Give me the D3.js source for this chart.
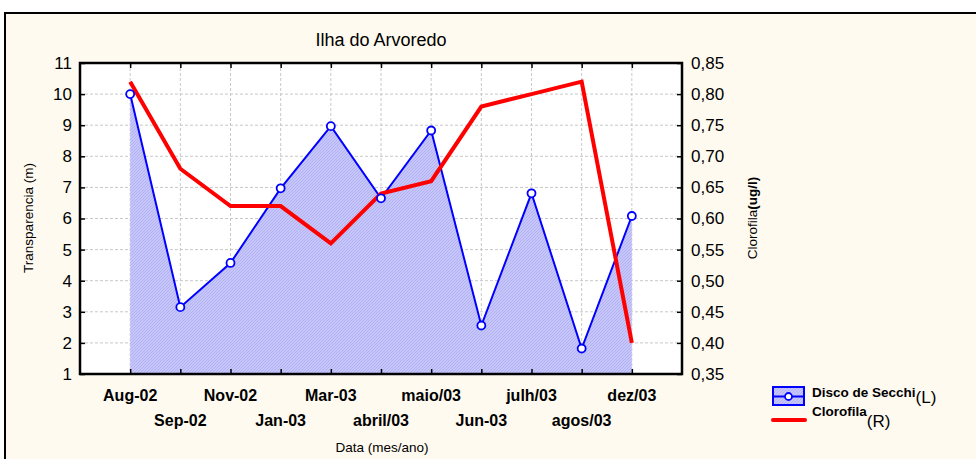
<!DOCTYPE html>
<html><head><meta charset="utf-8">
<script src="https://cdn.jsdelivr.net/npm/d3@7"></script>
<style>body{margin:0;background:#fff}svg{display:block;font-family:"Liberation Sans",Arial,sans-serif}</style>
</head><body>
<script>
const categories = ["Aug-02","Sep-02","Nov-02","Jan-03","Mar-03","abril/03","maio/03","Jun-03","julh/03","agos/03","dez/03"];
const secchi = [10.0, 3.15, 4.57, 6.97, 8.97, 6.65, 8.83, 2.56, 6.81, 1.82, 6.08];
const clorofila = [0.82, 0.68, 0.62, 0.62, 0.56, 0.64, 0.66, 0.78, 0.80, 0.82, 0.40];
const leftTicks = [1,2,3,4,5,6,7,8,9,10,11];
const rightTicks = [0.35,0.40,0.45,0.50,0.55,0.60,0.65,0.70,0.75,0.80,0.85];

const W = 976, H = 459;
const m = {l:80, t:63, r:682, b:374};
const svg = d3.select("body").append("svg").attr("width", W).attr("height", H);

svg.append("rect").attr("x",5).attr("y",13).attr("width",W).attr("height",H).attr("fill","#fefaef").attr("stroke","#000").attr("stroke-width",2);

const x = d3.scaleLinear().domain([-1, categories.length]).range([m.l, m.r]);
const yL = d3.scaleLinear().domain([1, 11]).range([m.b, m.t]);
const yR = d3.scaleLinear().domain([0.35, 0.85]).range([m.b, m.t]);

const defs = svg.append("defs");
const pat = defs.append("pattern").attr("id","hatch").attr("patternUnits","userSpaceOnUse").attr("width",3).attr("height",3);
pat.append("rect").attr("width",3).attr("height",3).attr("fill","#c6c6fb");
pat.append("path").attr("d","M0,3 L3,0").attr("stroke","#adadf0").attr("stroke-width",0.8);

svg.append("rect").attr("x",m.l).attr("y",m.t).attr("width",m.r-m.l).attr("height",m.b-m.t).attr("fill","#fff");

const g = svg.append("g");
leftTicks.slice(1,-1).forEach(v=>{
  g.append("line").attr("x1",m.l).attr("x2",m.r).attr("y1",yL(v)).attr("y2",yL(v)).attr("stroke","#c8c8c8").attr("stroke-dasharray","3,2");
});
categories.forEach((c,i)=>{
  g.append("line").attr("x1",x(i)).attr("x2",x(i)).attr("y1",m.t).attr("y2",m.b).attr("stroke","#c8c8c8").attr("stroke-dasharray","3,2");
});

const idx = categories.map((c,i)=>i);
svg.append("path").datum(idx)
  .attr("d", d3.area().x(i=>x(i)).y0(yL(1)).y1(i=>yL(secchi[i])))
  .attr("fill","url(#hatch)");

svg.append("path").datum(idx)
  .attr("d", d3.line().x(i=>x(i)).y(i=>yL(secchi[i])))
  .attr("fill","none").attr("stroke","#0000ff").attr("stroke-width",2);

svg.append("path").datum(idx)
  .attr("d", d3.line().x(i=>x(i)).y(i=>yR(clorofila[i])))
  .attr("fill","none").attr("stroke","#ff0000").attr("stroke-width",4).attr("stroke-linejoin","miter");

svg.selectAll("circle.pt").data(idx).join("circle").attr("class","pt")
  .attr("cx",i=>x(i)).attr("cy",i=>yL(secchi[i])).attr("r",4)
  .attr("fill","#fff").attr("stroke","#0000ff").attr("stroke-width",1.8);

function styleAxis(sel){ sel.select(".domain").remove(); sel.selectAll(".tick line").attr("stroke","#000").attr("stroke-width",1.5); }
const aL = svg.append("g").attr("transform",`translate(${m.l},0)`)
  .call(d3.axisRight(yL).tickValues(leftTicks).tickSize(5).tickFormat(d3.format("d")));
styleAxis(aL);
aL.selectAll(".tick text").attr("x",-8).attr("text-anchor","end").attr("font-size",17).attr("fill","#000").attr("font-family","Liberation Sans, Arial");

const aR = svg.append("g").attr("transform",`translate(${m.r},0)`)
  .call(d3.axisLeft(yR).tickValues(rightTicks).tickSize(5).tickFormat(d=>d3.format(".2f")(d).replace(".",",")));
styleAxis(aR);
aR.selectAll(".tick text").attr("x",9).attr("text-anchor","start").attr("font-size",17).attr("fill","#000").attr("font-family","Liberation Sans, Arial");

const aT = svg.append("g").attr("transform",`translate(0,${m.t})`)
  .call(d3.axisBottom(x).tickValues(idx).tickSize(5).tickFormat(""));
styleAxis(aT);
const aB = svg.append("g").attr("transform",`translate(0,${m.b})`)
  .call(d3.axisTop(x).tickValues(idx).tickSize(5).tickFormat(""));
styleAxis(aB);

svg.append("rect").attr("x",m.l).attr("y",m.t).attr("width",m.r-m.l).attr("height",m.b-m.t).attr("fill","none").attr("stroke","#000").attr("stroke-width",2.5);

svg.selectAll("text.xl").data(idx).join("text").attr("class","xl")
  .attr("x",i=>x(i)).attr("y",i=> i%2===0 ? 401 : 426)
  .attr("text-anchor","middle").attr("font-size",16).attr("font-weight","bold").text(i=>categories[i]);

svg.append("text").attr("x",381).attr("y",46).attr("text-anchor","middle").attr("font-size",18).text("Ilha do Arvoredo");
svg.append("text").attr("x",382).attr("y",452).attr("text-anchor","middle").attr("font-size",13.5).text("Data (mes/ano)");
svg.append("text").attr("transform","translate(33,218) rotate(-90)").attr("text-anchor","middle").attr("font-size",13.5).text("Transparencia (m)");
const rt = svg.append("text").attr("transform","translate(757,218) rotate(-90)").attr("text-anchor","middle").attr("font-size",13.5);
rt.append("tspan").text("Clorofila");
rt.append("tspan").attr("font-weight","bold").text("(ug/l)");

svg.append("rect").attr("x",773).attr("y",387).attr("width",31).attr("height",18).attr("fill","url(#hatch)").attr("stroke","#0000ff").attr("stroke-width",2);
svg.append("line").attr("x1",773).attr("x2",804).attr("y1",396.5).attr("y2",396.5).attr("stroke","#0000ff").attr("stroke-width",2);
svg.append("circle").attr("cx",788.5).attr("cy",396.5).attr("r",3.5).attr("fill","#fff").attr("stroke","#0000ff").attr("stroke-width",1.8);
svg.append("line").attr("x1",773).attr("x2",805).attr("y1",420).attr("y2",420).attr("stroke","#ff0000").attr("stroke-width",4).attr("stroke-linecap","round");
const l1 = svg.append("text").attr("x",812).attr("y",397).attr("font-size",13.5);
l1.append("tspan").attr("font-weight","bold").text("Disco de Secchi");
l1.append("tspan").attr("font-size",17).attr("dy",6).text("(L)");
const l2 = svg.append("text").attr("x",812).attr("y",416).attr("font-size",13.5);
l2.append("tspan").attr("font-weight","bold").text("Clorofila");
l2.append("tspan").attr("font-size",17).attr("dy",11).text("(R)");
</script>
</body></html>
